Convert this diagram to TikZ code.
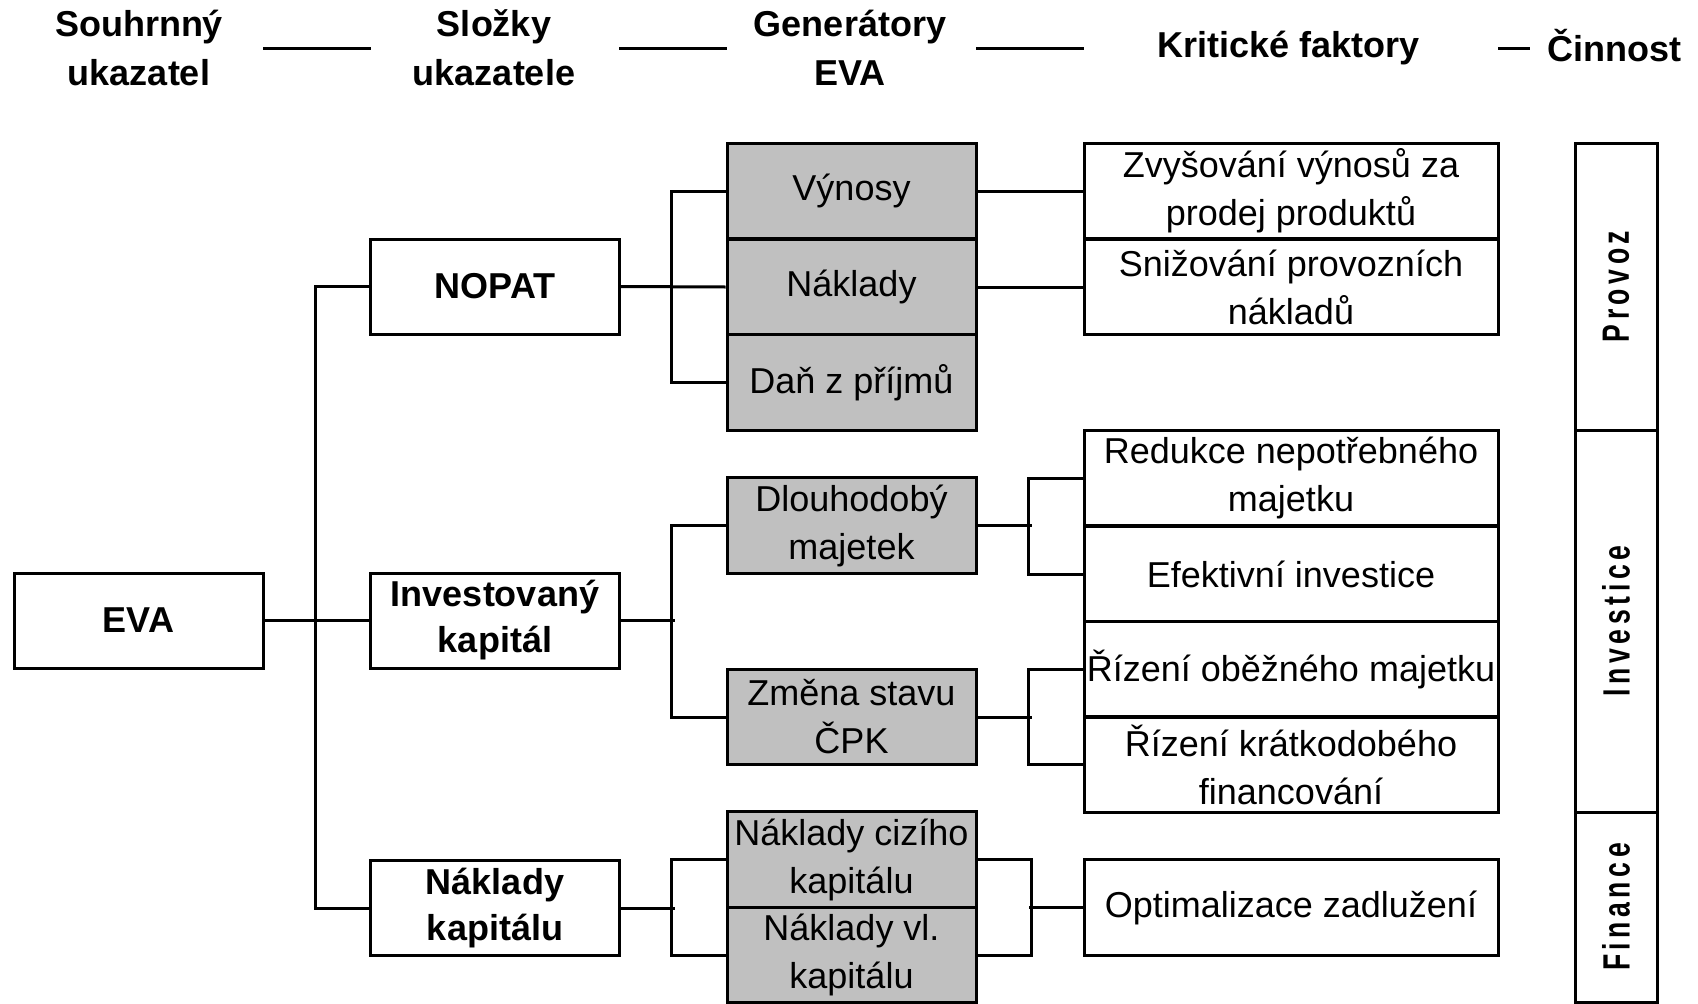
\documentclass[tikz,border=0pt]{standalone}
\usepackage{fontspec}
\setmainfont{Liberation Sans}
\newfontfamily\rotfont[FakeStretch=0.7,LetterSpace=12,BoldFont={Liberation Sans Bold},BoldFeatures={FakeStretch=0.7,LetterSpace=12}]{Liberation Sans}
\definecolor{boxgray}{HTML}{C0C0C0}
\begin{document}
\begin{tikzpicture}[x=1pt,y=-1pt,
  every node/.style={inner sep=0pt, align=center},
  conn/.style={line width=3pt},
  base/.style={draw, line width=3pt, font=\fontsize{36}{48}\selectfont},
  topbox/.style={base, minimum width=249, minimum height=95, font=\fontsize{36}{46}\selectfont\bfseries},
  genbox/.style={base, fill=boxgray, minimum width=249, minimum height=95.5},
  critbox/.style={base, minimum width=414, minimum height=95.5},
  actbox/.style={draw, line width=3pt, minimum width=82},
  acttext/.style={rotate=90, font=\fontsize{38}{40}\selectfont\rotfont\bfseries},
  head/.style={font=\fontsize{36}{49}\selectfont\bfseries}
]
\useasboundingbox (0,0) rectangle (1698,1004);

% headers
\node[head] (h1) at (139,48) {Souhrnný\\ukazatel};
\node[head] (h2) at (494,48) {Složky\\ukazatele};
\node[head] (h3) at (850,48) {Generátory\\EVA};
\node[head] (h4) at (1289,48) {Kritické faktory};
\node[head] (h5) at (1614,46) {Činnost};
\coordinate (d1a) at (263,48); \coordinate (d1b) at (371,48);
\coordinate (d2a) at (619,48); \coordinate (d2b) at (727,48);
\coordinate (d3a) at (976,48); \coordinate (d3b) at (1084,48);
\coordinate (d4a) at (1498,48); \coordinate (d4b) at (1530,48);
\draw[conn] (d1a) -- (d1b);
\draw[conn] (d2a) -- (d2b);
\draw[conn] (d3a) -- (d3b);
\draw[conn] (d4a) -- (d4b);

% level 1 and 2
\node[topbox] (eva) at (138.5,620.5) {EVA};
\node[topbox] (nopat) at (495,286.5) {NOPAT};
\node[topbox] (inv) at (495,620.5) {Investovaný\\kapitál};
\node[topbox] (nkap) at (495,908) {Náklady\\kapitálu};

% generators
\node[genbox] (vyn) at (851.5,191) {Výnosy};
\node[genbox] (nakl) at (851.5,287) {Náklady};
\node[genbox] (dan) at (851.5,382.5) {Daň z příjmů};
\node[genbox] (dlouh) at (851.5,525.5) {Dlouhodobý\\majetek};
\node[genbox] (zmena) at (851.5,717) {Změna stavu\\ČPK};
\node[genbox] (nck) at (851.5,859.5) {Náklady cizího\\kapitálu};
\node[genbox] (nvk) at (851.5,955) {Náklady vl.\\kapitálu};

% critical factors
\node[critbox] (zvys) at (1291,191) {Zvyšování výnosů za\\prodej produktů};
\node[critbox] (sniz) at (1291,287) {Snižování provozních\\nákladů};
\node[critbox] (red) at (1291,478) {Redukce nepotřebného\\majetku};
\node[critbox] (efek) at (1291,574) {Efektivní investice};
\node[critbox] (rob) at (1291,669.5) {Řízení oběžného majetku};
\node[critbox] (rkr) at (1291,764.5) {Řízení krátkodobého\\financování};
\node[critbox] (opt) at (1291,907.5) {Optimalizace zadlužení};

% activities
\node[actbox, minimum height=287] (prov) at (1616,286.5) {};
\node[actbox, minimum height=382] (inve) at (1616,621) {};
\node[actbox, minimum height=190] (fin) at (1616,907) {};
\node[acttext] (tprov) at (prov.center) {Provoz};
\node[acttext] (tinve) at (inve.center) {Investice};
\node[acttext] (tfin) at (fin.center) {Finance};

% connectors level 1
\draw[conn] (nopat.west) -- ++(-54,0) |- (nkap.west);
\draw[conn] (eva.east) -- (inv.west);

% NOPAT group
\draw[conn] (vyn.west) -- ++(-54,0) |- (dan.west);
\draw[conn] (nopat.east) -- (nakl.west);

% invested capital group
\draw[conn] (dlouh.west) -- ++(-54,0) |- (zmena.west);
\draw[conn] (inv.east) -- ++(54,0);

% cost of capital group
\draw[conn] (nck.west) -- ++(-54,0) |- (nvk.west);
\draw[conn] (nkap.east) -- ++(54,0);

% right connectors
\draw[conn] (vyn.east) -- (zvys.west);
\draw[conn] (nakl.east) -- (sniz.west);
\draw[conn] (red.west) -- ++(-54,0) |- (efek.west);
\draw[conn] (dlouh.east) -- ++(54,0);
\draw[conn] (rob.west) -- ++(-54,0) |- (rkr.west);
\draw[conn] (zmena.east) -- ++(54,0);
\draw[conn] (nck.east) -- ++(54,0) |- (nvk.east);
\draw[conn] (opt.west) -- ++(-54,0);
\end{tikzpicture}
\end{document}
